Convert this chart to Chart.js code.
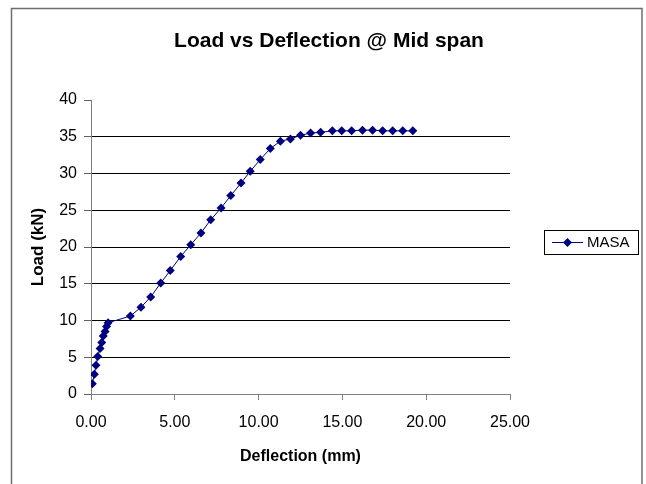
<!DOCTYPE html>
<html>
<head>
<meta charset="utf-8">
<script src="https://cdn.jsdelivr.net/npm/chart.js@4/dist/chart.umd.min.js"></script>
<style>
  html, body { margin: 0; padding: 0; background: #fff; }
  #wrap { width: 646px; height: 484px; }
</style>
</head>
<body>
<div id="wrap"><canvas id="c" width="646" height="484"></canvas></div>
<script>
const chartTitle = 'Load vs Deflection @ Mid span';
const xTitle = 'Deflection (mm)';
const yTitle = 'Load (kN)';
const seriesName = 'MASA';

const deflection = [0.08, 0.2, 0.3, 0.4, 0.54, 0.64, 0.73, 0.84, 0.93, 1.02,
  2.35, 2.98, 3.56, 4.16, 4.73, 5.35, 5.95, 6.56, 7.14, 7.76, 8.34, 8.95, 9.5,
  10.1, 10.7, 11.3, 11.9, 12.5, 13.1, 13.7, 14.4, 14.96, 15.55, 16.2, 16.8,
  17.4, 18.0, 18.6, 19.2];
const load = [1.4, 2.7, 3.9, 5.1, 6.2, 7.0, 7.9, 8.5, 9.2, 9.7,
  10.6, 11.8, 13.2, 15.1, 16.8, 18.7, 20.3, 21.9, 23.7, 25.3, 27.0, 28.7, 30.3,
  31.9, 33.4, 34.4, 34.7, 35.2, 35.5, 35.6, 35.8, 35.8, 35.8, 35.9, 35.9,
  35.8, 35.8, 35.8, 35.8];

const xTicks = [0, 5, 10, 15, 20, 25];
const yTicks = [0, 5, 10, 15, 20, 25, 30, 35, 40];

const FONT = "'Liberation Sans', Arial, sans-serif";
const NAVY = '#000080';

const points = deflection.map((x, i) => ({ x: x, y: load[i] }));

const framePlugin = {
  id: 'frame',
  beforeDraw(chart) {
    const ctx = chart.ctx;
    ctx.save();
    ctx.fillStyle = '#fff';
    ctx.fillRect(0, 0, chart.width, chart.height);
    ctx.strokeStyle = '#6e6e6e';
    ctx.lineWidth = 1.5;
    ctx.strokeRect(11.5, 8.5, 630.5, 500);
    ctx.restore();
  },
  afterDraw(chart) {
    const ctx = chart.ctx;
    ctx.save();
    // chart title, centred on the whole frame
    ctx.fillStyle = '#000';
    ctx.font = 'bold 21px ' + FONT;
    ctx.textAlign = 'center';
    ctx.textBaseline = 'middle';
    ctx.fillText(chartTitle, 329, 41);
    // legend box
    ctx.strokeStyle = '#000';
    ctx.lineWidth = 1;
    ctx.strokeRect(544.5, 230.5, 94, 24);
    ctx.strokeStyle = NAVY;
    ctx.beginPath();
    ctx.moveTo(552, 242.5);
    ctx.lineTo(583, 242.5);
    ctx.stroke();
    ctx.fillStyle = NAVY;
    ctx.beginPath();
    ctx.moveTo(567.5, 238);
    ctx.lineTo(572, 242.5);
    ctx.lineTo(567.5, 247);
    ctx.lineTo(563, 242.5);
    ctx.closePath();
    ctx.fill();
    ctx.fillStyle = '#000';
    ctx.font = '15px ' + FONT;
    ctx.textBaseline = 'middle';
    ctx.textAlign = 'left';
    ctx.fillText(seriesName, 587, 243);
    ctx.restore();
  }
};

new Chart(document.getElementById('c'), {
  type: 'scatter',
  data: {
    datasets: [{
      label: seriesName,
      data: points,
      showLine: true,
      borderColor: NAVY,
      borderWidth: 1,
      backgroundColor: NAVY,
      pointStyle: 'rectRot',
      pointRadius: 4.5,
      pointBorderWidth: 0,
      pointHoverRadius: 4.5
    }]
  },
  options: {
    responsive: false,
    animation: false,
    events: [],
    layout: { padding: { left: 12, right: 136, top: 100, bottom: 0 } },
    plugins: {
      legend: { display: false },
      tooltip: { enabled: false },
      title: { display: false }
    },
    scales: {
      x: {
        type: 'linear',
        min: 0, max: 25,
        afterBuildTicks(scale) { scale.ticks = xTicks.map(v => ({ value: v })); },
        afterFit(scale) { scale.height = 90; },
        border: { display: true, color: '#808080', width: 1 },
        grid: { drawOnChartArea: false, drawTicks: true, tickLength: 6, tickColor: '#808080' },
        ticks: {
          color: '#000',
          padding: 13,
          maxRotation: 0,
          font: { family: FONT, size: 16 },
          callback: v => Number(v).toFixed(2)
        },
        title: {
          display: true,
          text: xTitle,
          color: '#000',
          font: { family: FONT, size: 16, weight: 'bold', lineHeight: 1.2 },
          padding: { top: 0, bottom: 18 }
        }
      },
      y: {
        type: 'linear',
        min: 0, max: 40,
        afterBuildTicks(scale) { scale.ticks = yTicks.map(v => ({ value: v })); },
        afterFit(scale) { scale.width = 79; },
        border: { display: true, color: '#808080', width: 1 },
        grid: {
          drawTicks: true,
          tickLength: 7,
          tickColor: '#606060',
          color: ctx => (ctx.tick && (ctx.tick.value === 40)) ? 'rgba(0,0,0,0)' : (ctx.tick && ctx.tick.value === 0 ? '#808080' : '#000'),
          lineWidth: 1
        },
        ticks: {
          color: '#000',
          padding: 7,
          font: { family: FONT, size: 16 }
        },
        title: {
          display: true,
          text: yTitle,
          color: '#000',
          font: { family: FONT, size: 17, weight: 'bold', lineHeight: 1.2 },
          padding: { top: 16, bottom: 0 }
        }
      }
    }
  },
  plugins: [framePlugin]
});
</script>
</body>
</html>
